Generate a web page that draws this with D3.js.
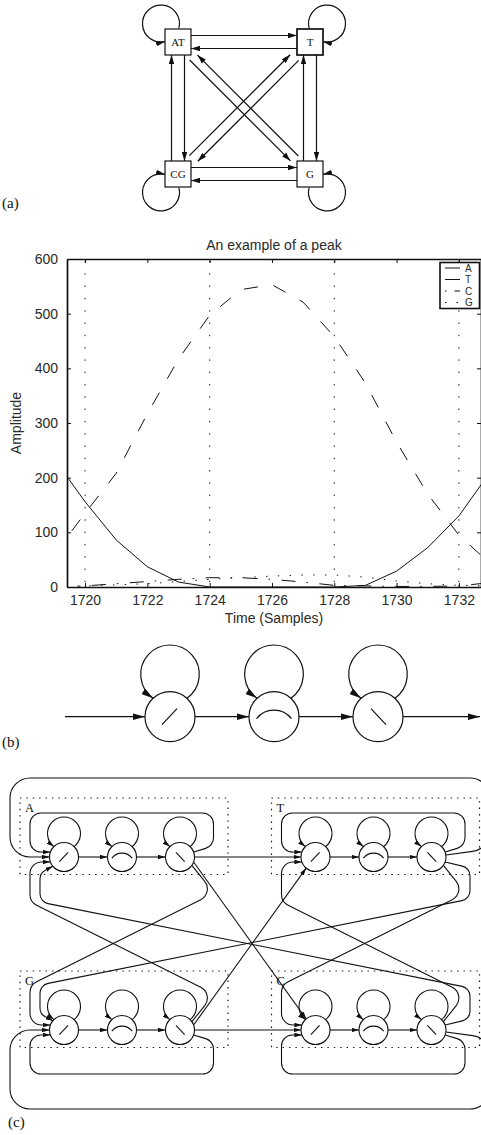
<!DOCTYPE html>
<html><head><meta charset="utf-8">
<script src="https://cdn.jsdelivr.net/npm/d3@7/dist/d3.min.js"></script>
<style>html,body{margin:0;padding:0;background:#fff;}svg{display:block;}</style>
</head><body>
<svg id="fig" width="481" height="1135" xmlns="http://www.w3.org/2000/svg"></svg>
<script>
// ---------------- chart data ----------------
const samples = [1719,1720,1721,1722,1723,1724,1725,1726,1727,1728,1729,1730,1731,1732,1733];
const ampA = [235,156,86,37,9,0,0,0,0,0,3,29,72,130,210];
const ampT = [59,135,208,317,417,497,544,553,521,458,373,265,170,95,43];
const ampC = [0,2,6,10,14,17,17,14,9,3,2,1,1,2,8];
const ampG = [1,2,4,6,10,14,17,20,22,22,18,11,6,3,2];
const seriesNames = ["A","T","C","G"];
const xTickValues = [1720,1722,1724,1726,1728,1730,1732];
const yTickValues = [0,100,200,300,400,500,600];
const peakSamples = [1720,1724,1728,1732];
const chartTitle = "An example of a peak";
const xTitle = "Time (Samples)";
const yTitle = "Amplitude";

// ---------------- diagram labels ----------------
const stateNames = ["AT","T","CG","G"];
const baseNames = ["A","T","G","C"];
const shapeKinds = ["rise","peak","fall"];
const panelLabels = ["(a)","(b)","(c)"];

// ---------------- setup ----------------
const svg = d3.select("#fig");
const defs = svg.append("defs");
const INK = "#111";
const SANS = "'Liberation Sans', Arial, Helvetica, sans-serif";
const SERIF = "'Liberation Serif', 'Times New Roman', serif";
function addMarker(id, len, wid){
  defs.append("marker").attr("id",id).attr("viewBox",`0 0 ${len} ${wid}`)
    .attr("refX",len).attr("refY",wid/2).attr("markerWidth",len).attr("markerHeight",wid)
    .attr("markerUnits","userSpaceOnUse").attr("orient","auto")
    .append("path").attr("d",`M0,0L${len},${wid/2}L0,${wid}Z`).attr("fill",INK);
}
addMarker("mA",9,5.5); addMarker("mB",12,6.5); addMarker("mC",7.5,4.5);

function roundedPath(pts, r){
  const p = d3.path(); p.moveTo(pts[0][0],pts[0][1]);
  const n = pts.length;
  for(let i=1;i<n-1;i++){
    const a=pts[i-1], b=pts[i], c=pts[i+1];
    const v1=[a[0]-b[0],a[1]-b[1]], v2=[c[0]-b[0],c[1]-b[1]];
    const l1=Math.hypot(v1[0],v1[1]), l2=Math.hypot(v2[0],v2[1]);
    const cs=(v1[0]*v2[0]+v1[1]*v2[1])/(l1*l2);
    const th=Math.acos(Math.max(-1,Math.min(1,cs)));
    const lim=Math.min(i===1?l1:l1/2, i===n-2?l2*0.6:l2/2)*0.95;
    const rr=Math.max(0.01, Math.min(r, lim*Math.tan(th/2)));
    p.arcTo(b[0],b[1],c[0],c[1],rr);
  }
  p.lineTo(pts[n-1][0],pts[n-1][1]);
  return p.toString();
}
function selfLoop(cx,cy,r,R,d){
  const yy=(R*R-r*r-d*d)/(2*d), xx=Math.sqrt(r*r-yy*yy);
  return `M${cx+xx},${cy+yy}A${R},${R} 0 1 0 ${cx-xx},${cy+yy}`;
}
function symbolPath(kind,cx,cy,s){
  if(kind==="rise") return `M${cx-8*s},${cy+8*s}L${cx+7*s},${cy-8*s}`;
  if(kind==="fall") return `M${cx-7*s},${cy-8*s}L${cx+8*s},${cy+8*s}`;
  return `M${cx-17.5*s},${cy+2*s}A${22*s},${22*s} 0 0 1 ${cx+17.5*s},${cy+2*s}`;
}

// ================= panel (a) =================
const pa = svg.append("g");
const aX = d3.scaleLinear().domain([0,1]).range([178,310]);
const aY = d3.scaleLinear().domain([0,1]).range([42,174]);
const HB = 13;
const boxes = stateNames.map((n,i)=>({name:n,col:i%2,row:Math.floor(i/2),cx:aX(i%2),cy:aY(Math.floor(i/2))}));
const aTrans = d3.cross(d3.range(4),d3.range(4)).filter(([i,j])=>i!==j);
pa.selectAll("line.tr").data(aTrans).join("line").attr("class","tr")
  .each(function([i,j]){
    const a=boxes[i], b=boxes[j];
    const dx=b.cx-a.cx, dy=b.cy-a.cy, L=Math.hypot(dx,dy);
    const ux=dx/L, uy=dy/L, px=-uy, py=ux;
    const diag = Math.abs(dx)>1 && Math.abs(dy)>1;
    let off=-6.5, s0=HB, s1=HB;
    if(diag){ const atg=(i===0||j===0); off = atg?4.5:-5; s0=21; s1=23; }
    d3.select(this)
      .attr("x1",a.cx+ux*s0+px*off).attr("y1",a.cy+uy*s0+py*off)
      .attr("x2",b.cx-ux*s1+px*off).attr("y2",b.cy-uy*s1+py*off);
  })
  .attr("stroke",INK).attr("stroke-width",1.2).attr("marker-end","url(#mA)");
pa.selectAll("path.loop").data(boxes).join("path").attr("class","loop")
  .attr("d",b=>{
    const sx=b.col===0?-1:1, sy=b.row===0?-1:1, R=18.5;
    const cx=b.cx+sx*17, cy=b.cy+sy*18.4;
    const a0=15*Math.PI/180, a1=77.7*Math.PI/180;
    const st=[cx-sx*R*Math.cos(a0), cy-sy*R*Math.sin(a0)];
    const en=[cx-sx*R*Math.cos(a1), cy-sy*R*Math.sin(a1)];
    return `M${st}A${R},${R} 0 1 ${sx*sy>0?0:1} ${en}`;
  })
  .attr("fill","none").attr("stroke",INK).attr("stroke-width",1.2).attr("marker-end","url(#mA)");
pa.selectAll("rect").data(boxes).join("rect")
  .attr("x",b=>b.cx-HB).attr("y",b=>b.cy-HB).attr("width",2*HB).attr("height",2*HB)
  .attr("fill","#fff").attr("stroke",INK).attr("stroke-width",b=>b.name==="T"?1.7:1.2);
pa.selectAll("text").data(boxes).join("text")
  .attr("x",b=>b.cx).attr("y",b=>b.cy+4).attr("text-anchor","middle")
  .attr("font-family",SERIF).attr("font-size",11).attr("fill",INK).text(b=>b.name);

// ================= chart =================
const pc = svg.append("g");
const x = d3.scaleLinear().domain([1719.42,1732.71]).range([67,481]);
const y = d3.scaleLinear().domain([0,600]).range([587,259]);
defs.append("clipPath").attr("id","plotclip").append("rect")
  .attr("x",67).attr("y",259).attr("width",414).attr("height",328);
pc.selectAll("line.pk").data(peakSamples).join("line").attr("class","pk")
  .attr("x1",d=>x(d)).attr("x2",d=>x(d)).attr("y1",y(600)+2).attr("y2",y(0))
  .attr("stroke",INK).attr("stroke-width",1).attr("stroke-dasharray","1.4,10.9");
const seriesVals = [ampA, ampT, ampC, ampG];
const seriesDash = [null,"14,16","14,11,1.5,11.5","1.4,10.4"];
const legendDash = [null,null,"1.5,8,6,10","1.5,10"];
const lineGen = d3.line().x((d,i)=>x(samples[i])).y(d=>y(d));
pc.append("g").attr("clip-path","url(#plotclip)")
  .selectAll("path").data(seriesVals).join("path")
  .attr("d",lineGen).attr("fill","none").attr("stroke",INK).attr("stroke-width",1)
  .attr("stroke-dasharray",(d,i)=>seriesDash[i]);
function styleAxis(g){
  g.select(".domain").attr("stroke",INK).attr("stroke-width",1.7);
  g.selectAll(".tick line").attr("stroke",INK).attr("stroke-width",1);
  g.selectAll(".tick text").attr("font-family",SANS).attr("font-size",14).attr("fill","#2a2a2a");
}
pc.append("g").attr("transform",`translate(0,${y(0)})`)
  .call(d3.axisBottom(x).tickValues(xTickValues).tickFormat(d3.format("d")).tickSizeInner(-4).tickSizeOuter(0).tickPadding(8))
  .call(styleAxis);
pc.append("g").attr("transform",`translate(0,${y(600)})`)
  .call(d3.axisTop(x).tickValues(xTickValues).tickFormat("").tickSizeInner(-4).tickSizeOuter(0))
  .call(styleAxis);
pc.append("g").attr("transform",`translate(${x(1719.42)},0)`)
  .call(d3.axisLeft(y).tickValues(yTickValues).tickSizeInner(-4).tickSizeOuter(0).tickPadding(9))
  .call(styleAxis);
pc.append("g").attr("transform",`translate(${x(1732.71)},0)`)
  .call(d3.axisRight(y).tickValues(yTickValues).tickFormat("").tickSizeInner(-4).tickSizeOuter(0))
  .call(styleAxis);
pc.append("text").attr("x",274).attr("y",250).attr("text-anchor","middle")
  .attr("font-family",SANS).attr("font-size",14).attr("fill","#2a2a2a").text(chartTitle);
pc.append("text").attr("x",274).attr("y",623).attr("text-anchor","middle")
  .attr("font-family",SANS).attr("font-size",14).attr("fill","#2a2a2a").text(xTitle);
pc.append("text").attr("transform","translate(20.5,423) rotate(-90)").attr("text-anchor","middle")
  .attr("font-family",SANS).attr("font-size",14).attr("fill","#2a2a2a").text(yTitle);
// legend
const lg = pc.append("g");
lg.append("rect").attr("x",440).attr("y",262.5).attr("width",39.5).attr("height",46)
  .attr("fill","#fff").attr("stroke",INK).attr("stroke-width",1.6);
const lgY = d3.scaleLinear().domain([0,3]).range([268,302.5]);
lg.selectAll("line").data(seriesNames).join("line")
  .attr("x1",445).attr("x2",460).attr("y1",(d,i)=>lgY(i)).attr("y2",(d,i)=>lgY(i))
  .attr("stroke",INK).attr("stroke-width",1).attr("stroke-dasharray",(d,i)=>legendDash[i]);
lg.selectAll("text").data(seriesNames).join("text")
  .attr("x",465).attr("y",(d,i)=>lgY(i)+3.6).attr("font-family",SANS).attr("font-size",10)
  .attr("fill","#2a2a2a").text(d=>d);

// ================= panel (b) =================
const pb = svg.append("g");
const bX = d3.scaleLinear().domain([0,2]).range([170,378]);
const bCY = 716.7, RB = 25;
const bNodes = shapeKinds.map((k,i)=>({kind:k,cx:bX(i),cy:bCY}));
const bChain = [[65,bX(0)-RB],[bX(0)+RB,bX(1)-RB],[bX(1)+RB,bX(2)-RB],[bX(2)+RB,480]];
pb.selectAll("line").data(bChain).join("line")
  .attr("x1",d=>d[0]).attr("x2",d=>d[1]).attr("y1",bCY).attr("y2",bCY)
  .attr("stroke",INK).attr("stroke-width",1.2).attr("marker-end","url(#mB)");
pb.selectAll("circle").data(bNodes).join("circle")
  .attr("cx",d=>d.cx).attr("cy",d=>d.cy).attr("r",RB).attr("fill","#fff").attr("stroke",INK).attr("stroke-width",1.2);
pb.selectAll("path.loop").data(bNodes).join("path").attr("class","loop")
  .attr("d",d=>selfLoop(d.cx,d.cy,RB,29.3,42.4)).attr("fill","none").attr("stroke",INK)
  .attr("stroke-width",1.2).attr("marker-end","url(#mB)");
pb.selectAll("path.sym").data(bNodes).join("path").attr("class","sym")
  .attr("d",d=>symbolPath(d.kind,d.cx,d.cy,1)).attr("fill","none").attr("stroke",INK).attr("stroke-width",1.2);

// ================= panel (c) =================
const pcc = svg.append("g");
const cColX = d3.scaleLinear().domain([0,2]).range([64,180]);
const groupDX = 251.5, cRowY = [857,1030], RC = 14.5, mirrorY = 943.5;
const cGroups = baseNames.map((n,k)=>({name:n,dx:(k%2===1)?groupDX:0,row:k<2?0:1}));
const cNodes = [];
cGroups.forEach(g=>shapeKinds.forEach((k,i)=>cNodes.push({kind:k,cx:cColX(i)+g.dx,cy:cRowY[g.row]})));
function P(g,i,deg){ const t=deg*Math.PI/180; return [cColX(i)+g.dx+RC*Math.cos(t), cRowY[g.row]+RC*Math.sin(t)]; }
const [Ag,Tg,Gg,Cg] = cGroups;
// dotted group boxes
pcc.selectAll("rect").data(cGroups).join("rect")
  .attr("x",g=>20+g.dx).attr("y",g=>cRowY[g.row]-59).attr("width",208).attr("height",76.5)
  .attr("fill","none").attr("stroke",INK).attr("stroke-width",1.2).attr("stroke-dasharray","1.4,5");
pcc.selectAll("text").data(cGroups).join("text")
  .attr("x",g=>25+g.dx).attr("y",g=>cRowY[g.row]-45).attr("font-family",SERIF).attr("font-size",12.5)
  .attr("fill",INK).text(g=>g.name);
// node circles
pcc.selectAll("circle").data(cNodes).join("circle")
  .attr("cx",d=>d.cx).attr("cy",d=>d.cy).attr("r",RC).attr("fill","#fff").attr("stroke",INK).attr("stroke-width",1.1);
// chain arrows within groups
const cChain = [];
cGroups.forEach(g=>{ cChain.push([P(g,0,0),P(g,1,180)]); cChain.push([P(g,1,0),P(g,2,180)]); });
pcc.selectAll("line.ch").data(cChain).join("line").attr("class","ch")
  .attr("x1",d=>d[0][0]).attr("y1",d=>d[0][1]).attr("x2",d=>d[1][0]).attr("y2",d=>d[1][1])
  .attr("stroke",INK).attr("stroke-width",1.1).attr("marker-end","url(#mC)");
// self loops + symbols
pcc.selectAll("path.loop").data(cNodes).join("path").attr("class","loop")
  .attr("d",d=>selfLoop(d.cx,d.cy,RC,16.5,23.5)).attr("fill","none").attr("stroke",INK)
  .attr("stroke-width",1.1).attr("marker-end","url(#mC)");
pcc.selectAll("path.sym").data(cNodes).join("path").attr("class","sym")
  .attr("d",d=>symbolPath(d.kind,d.cx,d.cy,0.58)).attr("fill","none").attr("stroke",INK).attr("stroke-width",1.1);
// inter-group transitions (top row defined, bottom row mirrored)
const topEdges = [
  ...[Ag,Tg].map(g=>({pts:[P(g,2,-20),[g.dx+213.5,846],[g.dx+213.5,813],[g.dx+30,813],[g.dx+30,852],P(g,0,-160)],r:11})),
  {pts:[P(Ag,2,0),P(Tg,0,180)],r:0},
  {pts:[P(Tg,2,-8),[490,849],[490,778],[10,778],[10,857],P(Ag,0,180)],r:20},
  {pts:[P(Ag,2,20),P(Cg,0,-130)],r:0},
  {pts:[P(Ag,2,35),[214,893],[30,985],[30,1025],P(Gg,0,-160)],r:12},
  {pts:[P(Tg,2,20),[470,868],[470,899],[40,985],[40,1014],P(Gg,0,-140)],r:10},
  {pts:[P(Tg,2,35),[465.5,893],[281.5,985],[281.5,1025],P(Cg,0,-160)],r:12}
];
const allEdges = topEdges.concat(topEdges.map(e=>({pts:e.pts.map(p=>[p[0],2*mirrorY-p[1]]),r:e.r})));
pcc.selectAll("path.edge").data(allEdges).join("path").attr("class","edge")
  .attr("d",e=>roundedPath(e.pts,e.r)).attr("fill","none").attr("stroke",INK)
  .attr("stroke-width",1.1).attr("marker-end","url(#mC)");

// ================= panel labels =================
const labelPos = [[2,208],[2,747],[8,1127]];
svg.selectAll("text.pl").data(panelLabels).join("text").attr("class","pl")
  .attr("x",(d,i)=>labelPos[i][0]).attr("y",(d,i)=>labelPos[i][1])
  .attr("font-family",SERIF).attr("font-size",15).attr("fill",INK).text(d=>d);
</script>
</body></html>
